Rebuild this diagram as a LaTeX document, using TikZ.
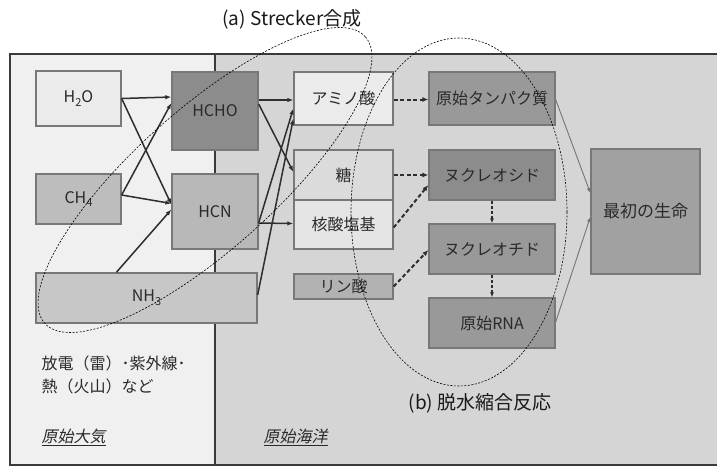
\documentclass[tikz,border=0pt]{standalone}
\usepackage{fontspec}
\setmainfont{Noto Sans CJK JP}
\newfontfamily\slantfont[FakeSlant=0.2]{Noto Sans CJK JP}
\usetikzlibrary{arrows.meta,calc}
\definecolor{atm}{HTML}{F0F0F0}
\definecolor{ocean}{HTML}{D5D5D5}
\definecolor{framec}{HTML}{3A3A3A}
\definecolor{bordc}{HTML}{787878}
\definecolor{txt}{HTML}{2A2A2A}
\definecolor{arrc}{HTML}{2E2E2E}
\newcommand\dn[1]{\raisebox{-0.45ex}{\fontsize{11}{11}\selectfont #1}}
\begin{document}
\begin{tikzpicture}[x=1pt,y=-1pt,
  box/.style={draw=bordc,line width=1.3pt,inner sep=0pt,text=txt,
    font=\fontsize{16}{18}\selectfont},
  sol/.style={draw=arrc,line width=1.5pt,-{Latex[length=6pt,width=4.5pt]}},
  dsh/.style={draw=arrc,line width=2pt,dash pattern=on 4pt off 2.5pt,-{Latex[length=6pt,width=5pt]}},
  vdsh/.style={draw=arrc,line width=1.3pt,dash pattern=on 3pt off 2pt,-{Latex[length=5pt,width=4pt]}},
  thin/.style={draw=black!55,line width=0.9pt,-{Latex[length=5pt,width=4pt]}},
  ell/.style={draw=black,line width=0.6pt,dash pattern=on 2pt off 1.5pt},
  lab/.style={text=black!90,font=\fontsize{19}{21}\selectfont},
  note/.style={text=txt,font=\fontsize{16}{23}\selectfont,align=left}]
\useasboundingbox (0,0) rectangle (717,467);
\fill[white] (0,0) rectangle (717,467);
\fill[atm] (10,54) rectangle (215,465);
\fill[ocean] (215,54) rectangle (717,465);
\draw[framec,line width=2pt] (717,54) -- (10,54) -- (10,465) -- (717,465);
\draw[framec,line width=2pt] (215,54) -- (215,465);

% boxes
\node[box,fill=black!8,minimum width=85pt,minimum height=55pt] (h2o) at (78.5,98.5) {H\dn{2}O};
\node[box,fill=black!45,minimum width=86pt,minimum height=78pt] (hcho) at (215,111) {HCHO};
\node[box,fill=black!26,minimum width=85pt,minimum height=50pt] (ch4) at (78.5,199) {CH\dn{4}};
\node[box,fill=black!28,minimum width=86pt,minimum height=75pt] (hcn) at (215,211.5) {HCN};
\node[box,fill=black!22,minimum width=221pt,minimum height=50pt] (nh3) at (146.5,298) {NH\dn{3}};
\node[box,fill=black!8,minimum width=99pt,minimum height=53pt] (amino) at (343.5,98.5) {アミノ酸};
\node[box,fill=black!14,minimum width=99pt,minimum height=50pt] (sugar) at (343.5,175) {糖};
\node[box,fill=black!10,minimum width=99pt,minimum height=49pt] (base) at (343.5,224.5) {核酸塩基};
\node[box,fill=black!30,minimum width=99pt,minimum height=25pt] (phos) at (343.5,286.5) {リン酸};
\node[box,fill=black!40,minimum width=126pt,minimum height=53pt] (prot) at (492,98.5) {原始タンパク質};
\node[box,fill=black!45,minimum width=126pt,minimum height=50pt] (nsid) at (492,175) {ヌクレオシド};
\node[box,fill=black!40,minimum width=126pt,minimum height=50pt] (ntid) at (492,249) {ヌクレオチド};
\node[box,fill=black!40,minimum width=126pt,minimum height=50pt] (rna) at (492,323) {原始RNA};
\node[box,fill=black!37,minimum width=109pt,minimum height=125pt,font=\fontsize{17}{19}\selectfont] (life) at (645.5,211.5) {最初の生命};

% solid arrows
\draw[sol] (h2o.east) -- ($(hcho.west)+(0,-14)$);
\draw[sol] (h2o.east) -- ($(hcn.west)+(0,-7)$);
\draw[sol] ($(ch4.east)+(0,-4)$) -- ($(hcho.west)+(0,-8)$);
\draw[sol] ($(ch4.east)+(0,-4)$) -- ($(hcn.west)+(0,-8)$);
\draw[sol] ($(nh3.north west)+(81,0)$) -- ($(hcn.west)+(0,-2)$);
\draw[sol] ($(hcho.east)+(0,-11)$) -- ($(amino.west)+(0,1.5)$);
\draw[sol] ($(hcho.east)+(0,-7)$) -- ($(sugar.west)+(0,-3)$);
\draw[sol] ($(hcn.east)+(0,11.5)$) -- ($(base.west)+(0,-1)$);
\draw[sol] ($(hcn.east)+(0,11.5)$) -- ($(amino.west)+(0,10)$);
\draw[sol] ($(nh3.east)+(0,-3)$) -- ($(amino.west)+(0,20)$);

% dashed arrows
\draw[dsh] ($(amino.east)+(0,1)$) -- ($(prot.west)+(0,1)$);
\draw[dsh] (sugar.east) -- (nsid.west);
\draw[dsh] ($(base.east)+(0,3)$) -- ($(nsid.west)+(0,10)$);
\draw[dsh] (phos.east) -- ($(ntid.west)+(0,1)$);
\draw[vdsh] (nsid.south) -- (ntid.north);
\draw[vdsh] (ntid.south) -- (rna.north);

% thin arrows
\draw[thin] ($(prot.east)+(0,1)$) -- ($(life.west)+(0,-18.5)$);
\draw[thin] ($(rna.east)+(0,-1)$) -- ($(life.west)+(0,5.5)$);

% ellipses
\draw[ell,rotate around={41.8:(205,180)}] (205,180) ellipse [x radius=215pt,y radius=70pt];
\draw[ell] (459,212) ellipse [x radius=108pt,y radius=174pt];

% labels
\node[lab] (la) at (292,19) {(a) Strecker合成};
\node[lab] (lb) at (480,403) {(b) 脱水縮合反応};
\node[note,anchor=west] (nt) at (38,375) {放電（雷）･紫外線･\\熱（火山）など};
\node[note,anchor=west,font=\fontsize{16}{18}\selectfont\slantfont] (atmo) at (38,437) {\underline{原始大気}};
\node[note,anchor=west,font=\fontsize{16}{18}\selectfont\slantfont] (sea) at (260,437) {\underline{原始海洋}};
\end{tikzpicture}
\end{document}
